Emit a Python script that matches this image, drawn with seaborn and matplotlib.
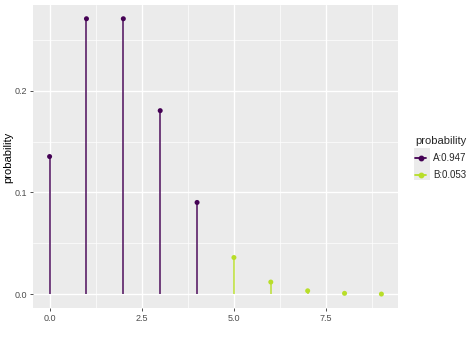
import matplotlib
matplotlib.use("Agg")
import matplotlib.pyplot as plt
import seaborn as sns
import pandas as pd
from matplotlib.lines import Line2D
from matplotlib.patches import Rectangle

x_vals = [0, 1, 2, 3, 4, 5, 6, 7, 8, 9]
probs = [0.1353, 0.2707, 0.2707, 0.1804, 0.0902, 0.0361, 0.0120, 0.0034, 0.0009, 0.0002]
groups = ["A:0.947"] * 5 + ["B:0.053"] * 5
group_labels = ["A:0.947", "B:0.053"]
group_colors = ["#440154", "#B8DE29"]

df = pd.DataFrame({"x": x_vals, "probability": probs, "group": groups})
palette = dict(zip(group_labels, group_colors))

sns.set_theme(style="darkgrid", rc={
    "axes.facecolor": "#EBEBEB",
    "grid.color": "white",
    "axes.edgecolor": "#EBEBEB",
})
plt.rcParams["font.family"] = ["Liberation Sans", "DejaVu Sans"]

fig = plt.figure(figsize=(4.74, 3.38), dpi=100)
ax = fig.add_axes([33/474, 30/338, 365/474, 303/338])

for g in group_labels:
    sub = df[df["group"] == g]
    ax.vlines(sub["x"], 0, sub["probability"], color=palette[g], lw=1.3, alpha=0.8, zorder=3)
sns.scatterplot(data=df, x="x", y="probability", hue="group", palette=palette,
                s=13, edgecolor="none", ax=ax, legend=False, zorder=4)

ax.set_xlim(-0.45, 9.45)
ax.set_ylim(-0.0135, 0.2842)
ax.set_xticks([0, 2.5, 5, 7.5])
ax.set_xticklabels(["0.0", "2.5", "5.0", "7.5"])
ax.set_yticks([0, 0.1, 0.2])
ax.set_yticklabels(["0.0", "0.1", "0.2"])
ax.set_xticks([1.25, 3.75, 6.25, 8.75], minor=True)
ax.set_yticks([0.05, 0.15, 0.25], minor=True)
ax.grid(True, which="major", color="white", lw=1.0)
ax.grid(True, which="minor", color="white", lw=0.5)
ax.tick_params(axis="both", which="major", labelsize=6.5, colors="#4D4D4D",
               length=2.5, width=0.6, color="#333333", pad=2, left=True, bottom=True)
ax.tick_params(axis="both", which="minor", length=0)
for sp in ax.spines.values():
    sp.set_visible(False)
ax.set_xlabel("")
ax.set_ylabel("")
fig.text(8/474, 1 - 157/338, "probability", rotation=90, fontsize=8, color="black",
         ha="center", va="center")

fig.patches.append(Rectangle((414/474, 1 - 180/338), 16/474, 32/338,
                             transform=fig.transFigure, facecolor="#EBEBEB",
                             edgecolor="none", zorder=0))

handles = [Line2D([0], [0], color=c, lw=1.3, marker="o", markersize=3.2) for c in group_colors]
leg = fig.legend(handles, group_labels, title="probability", loc="upper left",
                 bbox_to_anchor=(408/474, 1 - 129/338), frameon=False,
                 fontsize=7, title_fontsize=8, handlelength=1.2, handletextpad=0.7,
                 labelspacing=0.75, borderpad=0.2)
leg._legend_box.align = "left"

fig.savefig("out.png", dpi=100)
